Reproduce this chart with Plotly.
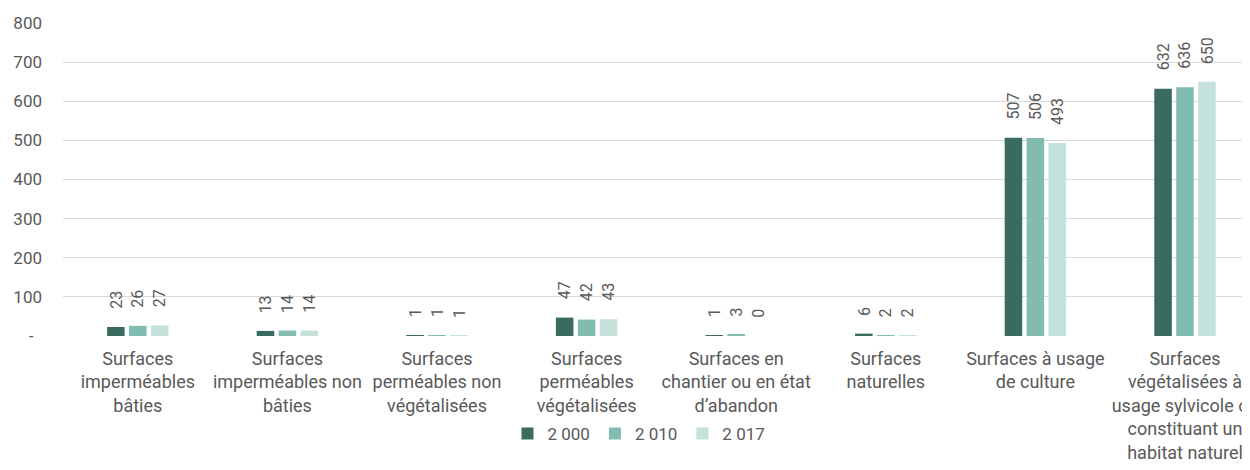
import plotly.graph_objects as go

categories = [
    "Surfaces<br>imperméables<br>bâties",
    "Surfaces<br>imperméables non<br>bâties",
    "Surfaces<br>perméables non<br>végétalisées",
    "Surfaces<br>perméables<br>végétalisées",
    "Surfaces en<br>chantier ou en état<br>d’abandon",
    "Surfaces<br>naturelles",
    "Surfaces à usage<br>de culture",
    "Surfaces<br>végétalisées à<br>usage sylvicole ou<br>constituant un<br>habitat naturel",
]
series_names = ["2 000", "2 010", "2 017"]
v2000 = [23, 13, 1, 47, 1, 6, 507, 632]
v2010 = [26, 14, 1, 42, 3, 2, 506, 636]
v2017 = [27, 14, 1, 43, 0, 2, 493, 650]
y_tickvals = [0, 100, 200, 300, 400, 500, 600, 700, 800]
y_ticktext = ["-\u00a0\u00a0", "100", "200", "300", "400", "500", "600", "700", "800"]

colors = ["#3A6B61", "#82BCB1", "#C4E2DB"]
text_color = "#595959"
FONT = "Roboto"

fig = go.Figure()
all_series = [v2000, v2010, v2017]
for name, vals, col in zip(series_names, all_series, colors):
    fig.add_trace(go.Bar(
        x=list(range(len(categories))), y=vals, name=name,
        marker=dict(color=col, line=dict(width=0)),
    ))

bargap = 0.56
n = len(all_series)
slot = (1 - bargap) / n
annotations = []
for si, vals in enumerate(all_series):
    off = (si - (n - 1) / 2) * slot
    for ci, v in enumerate(vals):
        annotations.append(dict(
            x=ci + off, y=v, xref="x", yref="y", text=str(v),
            showarrow=False, textangle=-90, yanchor="bottom", xanchor="center",
            yshift=16, font=dict(family=FONT, size=16, color=text_color),
        ))

fig.update_layout(
    width=1250, height=470,
    margin=dict(l=55, r=0, t=15, b=142),
    paper_bgcolor="white", plot_bgcolor="white",
    barmode="group", bargap=bargap, bargroupgap=0.2,
    font=dict(family=FONT, size=17, color=text_color),
    annotations=annotations,
    showlegend=True,
    legend=dict(orientation="h", x=0.482, xanchor="center", y=-0.313, yanchor="middle",
                font=dict(family=FONT, size=17, color=text_color),
                itemwidth=30, traceorder="normal"),
    hovermode=False,
)
fig.update_xaxes(
    tickmode="array", tickvals=list(range(len(categories))), ticktext=categories,
    range=[-0.5, 7.488], showgrid=False, zeroline=False, showline=False,
    ticks="", automargin=False, tickangle=0, ticklabeloverflow="allow",
    ticklabelstandoff=10,
    tickfont=dict(family=FONT, size=18, color=text_color),
)
fig.update_yaxes(
    range=[0, 800], tickvals=y_tickvals, ticktext=y_ticktext,
    showgrid=True, gridcolor="#D9D9D9", gridwidth=1, zeroline=False,
    showline=False, ticks="", automargin=False, ticklabelstandoff=20,
    tickfont=dict(family=FONT, size=17, color=text_color),
)

fig.write_html("out.html")
